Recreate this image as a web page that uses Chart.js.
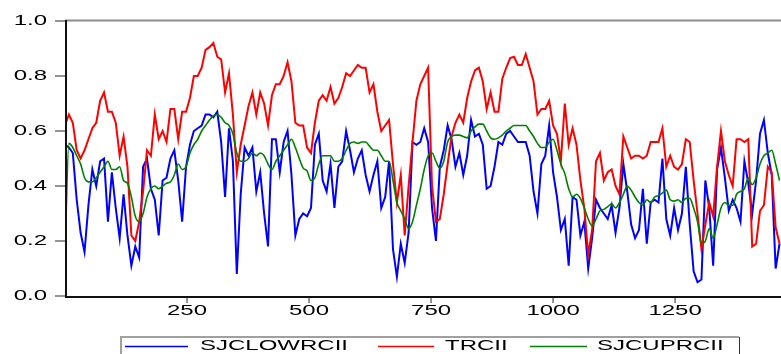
<!DOCTYPE html>
<html>
<head>
<meta charset="utf-8">
<script src="https://cdn.jsdelivr.net/npm/chart.js@4.4.1/dist/chart.umd.min.js"></script>
<style>
html, body { margin: 0; padding: 0; background: #fff; overflow: hidden; }
</style>
</head>
<body>
<canvas id="rc_chart" width="781" height="354"></canvas>
<script>
// observation index (sampled every 8 obs)
var obs = [0, 8, 16, 24, 32, 40, 48, 56, 64, 72, 80, 88, 96, 104, 112, 120, 128, 136, 144, 152,
    160, 168, 176, 184, 192, 200, 208, 216, 224, 232, 240, 248, 256, 264, 272, 280, 288, 296, 304, 312,
    320, 328, 336, 344, 352, 360, 368, 376, 384, 392, 400, 408, 416, 424, 432, 440, 448, 456, 464, 472,
    480, 488, 496, 504, 512, 520, 528, 536, 544, 552, 560, 568, 576, 584, 592, 600, 608, 616, 624, 632,
    640, 648, 656, 664, 672, 680, 688, 696, 704, 712, 720, 728, 736, 744, 752, 760, 768, 776, 784, 792,
    800, 808, 816, 824, 832, 840, 848, 856, 864, 872, 880, 888, 896, 904, 912, 920, 928, 936, 944, 952,
    960, 968, 976, 984, 992, 1000, 1008, 1016, 1024, 1032, 1040, 1048, 1056, 1064, 1072, 1080, 1088, 1096, 1104, 1112,
    1120, 1128, 1136, 1144, 1152, 1160, 1168, 1176, 1184, 1192, 1200, 1208, 1216, 1224, 1232, 1240, 1248, 1256, 1264, 1272,
    1280, 1288, 1296, 1304, 1312, 1320, 1328, 1336, 1344, 1352, 1360, 1368, 1376, 1384, 1392, 1400, 1408, 1416, 1424, 1432,
    1440, 1448, 1456, 1464];

var sjcLow = [0.55, 0.54, 0.52, 0.35, 0.23, 0.16, 0.33, 0.46, 0.40, 0.49, 0.50, 0.27, 0.45, 0.32, 0.21, 0.37, 0.22, 0.11, 0.18, 0.14,
    0.47, 0.50, 0.39, 0.35, 0.22, 0.42, 0.43, 0.50, 0.53, 0.42, 0.27, 0.47, 0.55, 0.60, 0.61, 0.62, 0.66, 0.66, 0.65, 0.67,
    0.56, 0.36, 0.61, 0.49, 0.08, 0.37, 0.54, 0.51, 0.54, 0.38, 0.45, 0.30, 0.18, 0.57, 0.57, 0.45, 0.56, 0.60, 0.44, 0.22,
    0.28, 0.30, 0.29, 0.32, 0.55, 0.59, 0.42, 0.38, 0.48, 0.32, 0.47, 0.49, 0.60, 0.53, 0.45, 0.50, 0.53, 0.44, 0.38, 0.44,
    0.49, 0.32, 0.36, 0.49, 0.17, 0.07, 0.19, 0.12, 0.23, 0.56, 0.55, 0.56, 0.61, 0.56, 0.32, 0.20, 0.47, 0.53, 0.62, 0.57,
    0.47, 0.52, 0.44, 0.51, 0.64, 0.58, 0.59, 0.55, 0.39, 0.40, 0.47, 0.56, 0.55, 0.59, 0.60, 0.58, 0.56, 0.56, 0.56, 0.51,
    0.38, 0.30, 0.48, 0.51, 0.62, 0.45, 0.36, 0.24, 0.28, 0.11, 0.36, 0.35, 0.22, 0.27, 0.10, 0.21, 0.35, 0.32, 0.30, 0.28,
    0.33, 0.23, 0.32, 0.48, 0.38, 0.26, 0.21, 0.24, 0.39, 0.19, 0.34, 0.35, 0.34, 0.50, 0.28, 0.22, 0.32, 0.24, 0.30, 0.47,
    0.26, 0.09, 0.05, 0.06, 0.42, 0.32, 0.11, 0.46, 0.54, 0.43, 0.31, 0.35, 0.32, 0.27, 0.49, 0.41, 0.30, 0.42, 0.59, 0.64,
    0.52, 0.44, 0.10, 0.19];

var trc = [0.62, 0.66, 0.63, 0.53, 0.50, 0.53, 0.57, 0.61, 0.63, 0.71, 0.74, 0.67, 0.67, 0.63, 0.51, 0.58, 0.47, 0.22, 0.20, 0.27,
    0.38, 0.53, 0.51, 0.66, 0.57, 0.60, 0.56, 0.68, 0.68, 0.57, 0.67, 0.67, 0.72, 0.80, 0.80, 0.83, 0.895, 0.905, 0.92, 0.87,
    0.86, 0.74, 0.81, 0.66, 0.45, 0.55, 0.62, 0.69, 0.74, 0.66, 0.74, 0.70, 0.62, 0.73, 0.77, 0.77, 0.80, 0.85, 0.78, 0.63,
    0.62, 0.62, 0.54, 0.52, 0.63, 0.71, 0.73, 0.71, 0.76, 0.70, 0.72, 0.76, 0.81, 0.80, 0.82, 0.84, 0.83, 0.83, 0.74, 0.77,
    0.67, 0.60, 0.62, 0.64, 0.48, 0.34, 0.44, 0.22, 0.40, 0.56, 0.71, 0.77, 0.80, 0.83, 0.40, 0.27, 0.28, 0.37, 0.48, 0.58,
    0.63, 0.66, 0.63, 0.72, 0.78, 0.82, 0.83, 0.78, 0.68, 0.74, 0.67, 0.67, 0.79, 0.83, 0.865, 0.87, 0.84, 0.84, 0.88, 0.83,
    0.78, 0.66, 0.68, 0.68, 0.71, 0.62, 0.59, 0.49, 0.70, 0.55, 0.61, 0.55, 0.42, 0.32, 0.15, 0.24, 0.49, 0.52, 0.42, 0.45,
    0.46, 0.40, 0.37, 0.58, 0.54, 0.50, 0.51, 0.51, 0.50, 0.51, 0.56, 0.56, 0.56, 0.61, 0.47, 0.51, 0.47, 0.46, 0.48, 0.57,
    0.56, 0.42, 0.30, 0.17, 0.26, 0.34, 0.29, 0.47, 0.60, 0.49, 0.44, 0.40, 0.57, 0.57, 0.56, 0.57, 0.18, 0.19, 0.31, 0.33,
    0.47, 0.45, 0.25, 0.19];

var sjcUp = [0.15, 0.555, 0.54, 0.51, 0.48, 0.43, 0.415, 0.415, 0.43, 0.45, 0.47, 0.49, 0.46, 0.46, 0.47, 0.42, 0.41, 0.36, 0.29, 0.27,
    0.30, 0.36, 0.39, 0.40, 0.39, 0.40, 0.41, 0.415, 0.44, 0.48, 0.46, 0.47, 0.52, 0.55, 0.57, 0.60, 0.62, 0.64, 0.655, 0.66,
    0.65, 0.63, 0.62, 0.59, 0.52, 0.49, 0.49, 0.50, 0.52, 0.51, 0.52, 0.51, 0.48, 0.46, 0.49, 0.51, 0.53, 0.55, 0.57, 0.54,
    0.50, 0.465, 0.455, 0.42, 0.43, 0.48, 0.51, 0.51, 0.51, 0.49, 0.49, 0.50, 0.53, 0.555, 0.56, 0.555, 0.56, 0.56, 0.545, 0.53,
    0.53, 0.51, 0.49, 0.49, 0.42, 0.34, 0.31, 0.28, 0.245, 0.27, 0.33, 0.39, 0.46, 0.51, 0.52, 0.49, 0.465, 0.49, 0.56, 0.58,
    0.585, 0.585, 0.58, 0.575, 0.60, 0.615, 0.625, 0.625, 0.60, 0.575, 0.57, 0.575, 0.585, 0.60, 0.61, 0.62, 0.62, 0.62, 0.62, 0.60,
    0.58, 0.555, 0.54, 0.54, 0.56, 0.57, 0.53, 0.48, 0.445, 0.39, 0.36, 0.37, 0.355, 0.32, 0.28, 0.255, 0.28, 0.31, 0.315, 0.325,
    0.335, 0.32, 0.34, 0.37, 0.40, 0.385, 0.36, 0.34, 0.33, 0.35, 0.34, 0.36, 0.365, 0.375, 0.385, 0.35, 0.345, 0.35, 0.34, 0.355,
    0.355, 0.32, 0.27, 0.19, 0.20, 0.245, 0.21, 0.26, 0.32, 0.34, 0.33, 0.33, 0.37, 0.38, 0.39, 0.43, 0.405, 0.43, 0.48, 0.51,
    0.52, 0.53, 0.48, 0.42];

var xTicks = [250, 500, 750, 1000, 1250];
var yTicks = [0, 0.2, 0.4, 0.6, 0.8, 1.0];
var seriesNames = ["SJCLOWRCII", "TRCII", "SJCUPRCII"];
var seriesColors = ['#0000ff', '#ff0000', '#008000'];

// EViews-like wide lettering
var STRETCH = 1.6;
var FONT = '15px "Liberation Sans", Arial, sans-serif';

function pts(xs, ys) {
    var out = [];
    for (var i = 0; i < xs.length; i++) out.push({ x: xs[i], y: ys[i] });
    return out;
}

function wideText(c, txt, x, y, align) {
    c.save();
    c.font = FONT;
    c.textBaseline = 'middle';
    c.textAlign = 'left';
    var w = c.measureText(txt).width * STRETCH;
    var left = x;
    if (align === 'right') left = x - w;
    else if (align === 'center') left = x - w / 2;
    c.translate(left, y);
    c.scale(STRETCH, 1);
    c.fillStyle = '#000';
    c.fillText(txt, 0, 0);
    c.restore();
}

var framePlugin = {
    id: 'frame',
    afterDraw: function (chart) {
        var c = chart.ctx;
        var a = chart.chartArea;
        var xs = chart.scales.x, ys = chart.scales.y;
        c.save();
        // top border
        c.strokeStyle = '#8c8c8c';
        c.lineWidth = 2;
        c.beginPath();
        c.moveTo(a.left, a.top - 0.5);
        c.lineTo(a.right, a.top - 0.5);
        c.stroke();
        // y tick marks + labels
        c.strokeStyle = '#707070';
        c.lineWidth = 1.5;
        yTicks.forEach(function (v) {
            var py = ys.getPixelForValue(v);
            c.beginPath();
            c.moveTo(a.left - 10, py);
            c.lineTo(a.left, py);
            c.stroke();
            wideText(c, v.toFixed(1), 47, py, 'right');
        });
        // x tick marks + labels
        xTicks.forEach(function (v) {
            var px = xs.getPixelForValue(v);
            c.beginPath();
            c.moveTo(px, a.bottom);
            c.lineTo(px, a.bottom + 7);
            c.stroke();
            wideText(c, String(v), px, 311, 'center');
        });
        // axes
        c.strokeStyle = '#111';
        c.lineWidth = 2;
        c.beginPath();
        c.moveTo(a.left + 1, a.top - 1);
        c.lineTo(a.left + 1, a.bottom + 1);
        c.lineTo(a.right, a.bottom + 1);
        c.stroke();

        // legend box
        c.strokeStyle = '#a0a0a0';
        c.lineWidth = 2;
        c.beginPath();
        c.moveTo(121, 360);
        c.lineTo(121, 337);
        c.lineTo(739, 337);
        c.stroke();
        c.strokeStyle = '#333';
        c.lineWidth = 1;
        c.beginPath();
        c.moveTo(739.5, 337);
        c.lineTo(739.5, 360);
        c.stroke();
        var items = [[125, 188, 200], [378, 434, 445], [530, 587, 597]];
        for (var i = 0; i < items.length; i++) {
            c.strokeStyle = seriesColors[i];
            c.lineWidth = 1.5;
            c.beginPath();
            c.moveTo(items[i][0], 346.5);
            c.lineTo(items[i][1], 346.5);
            c.stroke();
            wideText(c, seriesNames[i], items[i][2], 346, 'left');
        }
        c.restore();
    }
};

new Chart(document.getElementById("rc_chart").getContext("2d"), {
    type: 'line',
    data: {
        datasets: [{
            label: seriesNames[0],
            data: pts(obs, sjcLow),
            borderColor: seriesColors[0],
            borderWidth: 2,
            pointRadius: 0,
            order: 3
        }, {
            label: seriesNames[1],
            data: pts(obs, trc),
            borderColor: seriesColors[1],
            borderWidth: 2,
            pointRadius: 0,
            order: 2
        }, {
            label: seriesNames[2],
            data: pts(obs, sjcUp),
            borderColor: seriesColors[2],
            borderWidth: 1.6,
            pointRadius: 0,
            cubicInterpolationMode: 'monotone',
            order: 1
        }]
    },
    options: {
        responsive: false,
        animation: false,
        events: [],
        layout: { padding: { left: 65, top: 21, right: 0, bottom: 58 } },
        plugins: { legend: { display: false }, tooltip: { enabled: false } },
        scales: {
            x: { type: 'linear', min: 0, max: 1467, display: false },
            y: { min: 0, max: 1, display: false }
        }
    },
    plugins: [framePlugin]
});
</script>
</body>
</html>
